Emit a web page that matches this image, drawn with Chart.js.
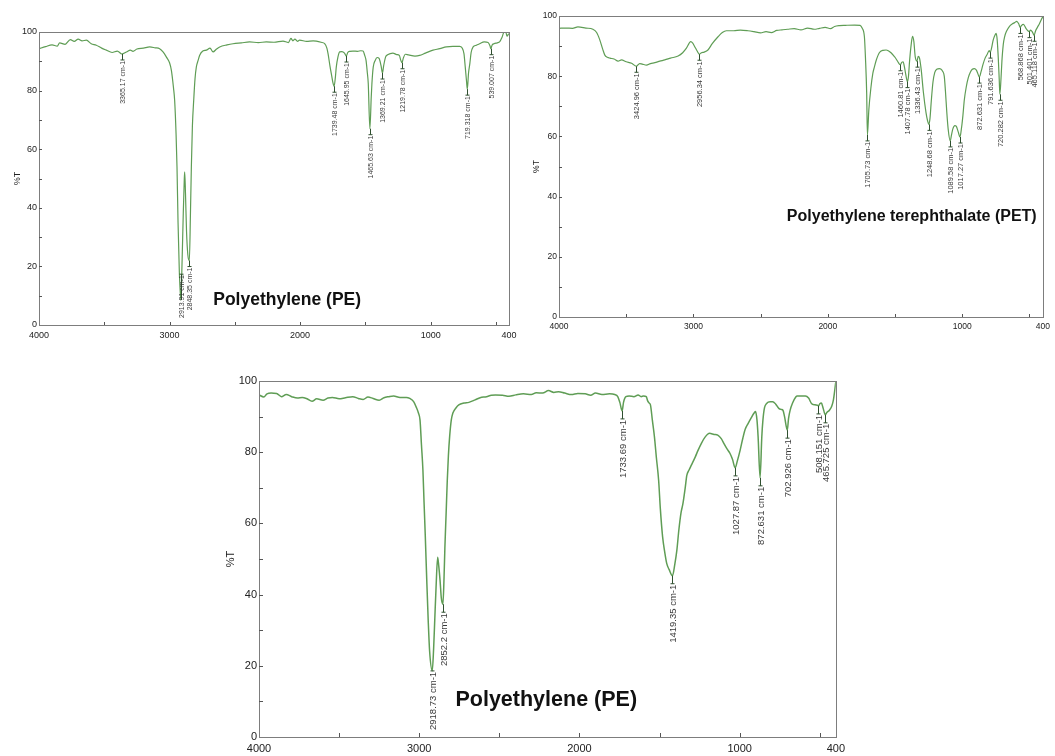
<!DOCTYPE html>
<html><head><meta charset="utf-8">
<script src="https://cdn.jsdelivr.net/npm/chart.js@4.4.1/dist/chart.umd.min.js"></script>
<style>
body{margin:0;background:#fff;width:1055px;height:756px;position:relative;overflow:hidden}
canvas{position:absolute}
</style></head><body>
<canvas id="c1" width="525" height="345" style="left:0;top:0"></canvas>
<canvas id="c2" width="525" height="337" style="left:530px;top:0"></canvas>
<canvas id="c3" width="650" height="396" style="left:200px;top:360px"></canvas>
<script>
// ---------- shared ticks ----------
const xTickLabels = [4000, 3000, 2000, 1000, 400];
const yTickLabels = [0, 20, 40, 60, 80, 100];
const xMinorTicks = [3500, 3000, 2500, 2000, 1500, 1000, 500];
const yMinorTicks = [10, 20, 30, 40, 50, 60, 70, 80, 90];

// ---------- Panel 1 : Polyethylene (PE) ----------
const title1 = 'Polyethylene (PE)';
const wn1 = [4000,3950,3900,3860,3842,3800,3760,3730,3700,3670,3637,3600,3561,3520,3484,3440,3400,3365.17,3330,3300,3280,3250,3200,3152,3110,3076,3050,3025,3000,2986,2970,2961,2950,2943,2935,2925,2913.91,2905,2895,2887,2884,2878,2870,2860,2848.35,2840,2833,2825,2815,2805,2795,2780,2770,2745,2718,2690,2667,2640,2616,2560,2514,2450,2387,2320,2259,2200,2131,2090,2070,2055,2040,2020,2004,1950,1900,1876,1840,1812,1795,1786,1770,1761,1750,1739.48,1730,1723,1710,1697,1680,1660,1645.95,1635,1620,1595,1560,1535,1518,1505,1495,1485,1478,1465.63,1455,1450,1440,1425,1410,1395,1380,1369.21,1360,1345,1330,1289,1260,1240,1230,1219.78,1210,1195,1170,1120,1085,1040,982,930,880,830,778,760,745,735,725,719.318,710,700,690,675,650,625,590,560,545,539.007,530,515,490,472,455,440,425,415,405,400];
const t1 = [94.3,95.0,95.6,95.2,96.3,95.8,97.4,96.8,97.6,97.0,97.2,96.0,95.5,94.5,93.8,93.0,93.5,92.5,93.2,93.8,93.4,94.2,94.5,94.9,94.6,94.3,93.2,91.5,89.5,86.9,81,76.7,65,54,35,18,8.5,20,38,50,52.3,45,32,24,22,38,54,68,76.7,84,88,90.5,92,93.5,93.8,94.5,93.2,94.2,94.9,95.6,96.0,96.3,96.6,96.4,96.6,96.5,96.9,96.4,97.8,97.0,97.6,96.8,97.2,96.8,97.0,96.9,96.5,96.0,94.5,92.6,88,85.8,83,81.5,84.5,88,91.5,93.2,93.3,92.8,91.8,93.0,93.4,93.5,93.4,93.6,93.5,92,90.3,86,82.4,67,78,82.4,88,90.3,91.3,91.0,88.5,86.0,88.5,91.5,92.2,92.8,92.3,92.0,90.5,89.5,91.0,92.4,92.2,91.8,92.0,92.8,93.8,94.3,94.9,95.1,95.1,94.6,92.6,88,83,80.5,86,89.2,93,94.9,95.5,96.0,96.6,96.4,95.2,94.3,95.5,96.0,96.3,96.6,98,99.8,100,98.6,99.2,99.4];
const peaks1 = ['3365.17','2913.91','2848.35','1739.48','1645.95','1465.63','1369.21','1219.78','719.318','539.007'];
const peakT1 = [92.5,8.5,22,81.5,91.8,67,86,89.5,80.5,94.3];

// ---------- Panel 2 : Polyethylene terephthalate (PET) ----------
const title2 = 'Polyethylene terephthalate (PET)';
const wn2 = [4000,3950,3900,3859,3800,3748,3720,3696,3675,3659,3640,3621,3590,3560,3535,3500,3460,3424.96,3400,3380,3349,3320,3287,3250,3213,3170,3114,3080,3052,3020,3005,2990,2970,2956.34,2940,2920,2892,2860,2817,2785,2755,2700,2650,2595,2550,2500,2460,2421,2380,2340,2298,2250,2200,2150,2100,2062,2020,1980,1950,1914,1870,1800,1760,1745,1728,1720,1711,1705.73,1695,1680,1665,1654,1640,1617,1590,1567,1545,1530,1505,1493,1475,1460.81,1450,1440,1430,1420,1407.78,1400,1392,1380,1370,1360,1350,1336.43,1328,1318,1305,1290,1270,1258,1248.68,1240,1230,1218,1205,1190,1170,1160,1145,1134,1125,1115,1105,1089.58,1080,1070,1055,1045,1030,1017.27,1005,995,985,970,955,940,925,910,895,885,872.631,860,845,830,815,800,791.636,782,770,757,748,740,732,725,720.282,712,705,695,685,670,650,630,610,595,580,568.868,560,545,525,510,501.401,492,480,470,465.118,455,440,425,410,400];
const t2 = [95.9,96.0,95.9,96.4,96.0,95.6,94.5,92.0,89,87.0,86.3,86.0,85.7,85.0,85.4,84.8,84.3,83.3,84.2,84.0,83.7,84.2,84.5,85.0,85.4,86.0,86.7,87.8,89.3,91.5,91.0,89.8,88.2,87.3,87.8,88.0,88.7,90.8,93.1,94.5,95.1,95.1,95.3,95.1,94.8,94.4,94.8,94.5,95.2,95.4,95.6,95.8,95.4,96.0,95.6,95.9,96.2,95.8,96.5,96.8,96.9,97.0,96.9,96,93.1,86,74.3,60.5,68.8,76,81,83,85.3,87.8,88.6,88.7,88.3,87.8,86.5,85.8,84.5,83.8,84.6,84.8,83.0,80.5,78.2,80,85,90.5,93.2,91.5,86.5,85.0,86.6,86.0,82,75,68,65.2,64.0,66,72,78,81.2,82.3,82.5,82.4,81.6,80,75,68,62.5,58.5,60.5,62.5,63.6,63.4,61.5,59.8,63,67,72,76.5,79.5,81.3,82.3,82.5,82.0,81.0,79.7,81.5,84,86,87.2,88.5,88.0,89.3,92,93.6,94.2,92,86,79,74,79,85,90.5,93.1,95,96.5,97.3,97.8,98.2,97.4,96.2,96.8,97.2,95.8,95.0,94.8,95.3,94.8,93.9,93.6,95,96.3,97.5,99,99.8];
const peaks2 = ['3424.96','2956.34','1705.73','1460.81','1407.78','1336.43','1248.68','1089.58','1017.27','872.631','791.636','720.282','568.868','501.401','465.118'];
const peakT2 = [83.3,87.3,60.5,83.8,78.2,85.0,64.0,58.5,59.8,79.7,88.0,74,96.2,94.8,93.6];

// ---------- Panel 3 : Polyethylene (PE) ----------
const title3 = 'Polyethylene (PE)';
const wn3 = [4000,3970,3950,3924,3890,3860,3830,3796,3760,3730,3700,3669,3640,3600,3570,3542,3500,3460,3415,3380,3350,3320,3288,3250,3220,3190,3160,3120,3080,3059,3035,3020,3005,2995,2986,2977,2970,2962,2953,2944,2935,2918.73,2910,2903,2895,2885,2878,2870,2862,2852.2,2845,2840,2832,2825,2818,2810,2800,2790,2770,2753,2720,2690,2651,2620,2580,2550,2524,2480,2440,2397,2350,2300,2270,2230,2193,2160,2130,2092,2050,2010,1964,1930,1900,1860,1812,1780,1761,1748,1733.69,1725,1710,1690,1660,1634,1615,1600,1583,1575,1565,1557,1545,1532,1520,1506,1495,1481,1468,1455,1440,1419.35,1405,1392,1380,1366,1354,1340,1330,1316,1300,1277,1260,1239,1215,1188,1160,1137,1115,1099,1080,1061,1045,1027.87,1015,997,980,965,947,930,910,901,892,885,872.631,862,855,845,832,810,794,775,756,740,730,720,702.926,695,685,670,650,641,610,590,570,552,530,515,508.151,500,490,480,465.725,455,440,425,415,400];
const t3 = [96.1,95.5,96.4,96.6,96.5,95.6,96.2,95.6,95.2,95.4,95.0,94.3,95.0,94.6,95.2,95.4,95.0,95.3,95.6,95.1,94.8,95.5,95.1,94.6,95.3,95.6,95.8,95.4,95.4,95.1,94.2,92.8,91.0,89,82,75,66,56.2,44,32.8,24,18.6,25,33,42,50.5,48,44,39,37.3,45,53,63,72,79,84.5,89,91,92.5,93.3,93.8,94.0,94.7,95.3,95.6,96.0,96.1,96.0,95.7,96.1,96.4,96.2,96.7,96.6,97.3,96.8,97.0,96.6,96.2,96.5,96.4,96.0,96.6,96.2,96.4,96.2,95.6,94.0,91.6,94.0,95.6,95.8,95.6,96.1,95.6,95.8,95.6,94.5,93.8,93.3,89,84.3,78.5,72.2,64,56.2,52,48.7,47,45.3,48.5,52.5,58,63,65.6,70,73.5,75.0,76.5,78.7,80.5,82.5,84.3,85.3,85.0,84.8,83.8,82.5,81,79.7,78,75.6,77.5,80.6,84,86.5,88.1,89.5,91.0,91.4,89,84.3,72.8,84.3,89,92.5,93.7,94.2,94.2,93.5,92.3,92,91.8,90,86.2,89.5,91.8,93.8,95.5,95.8,95.8,95.8,95.2,93.7,93.3,93.2,93.0,93.6,93.8,92.5,90.5,91.2,91.8,93,94.7,99.8];
const peaks3 = ['2918.73','2852.2','1733.69','1419.35','1027.87','872.631','702.926','508.151','465.725'];
const peakT3 = [18.6,37.3,91.6,45.3,75.6,72.8,86.2,93.0,90.5];

// ---------- drawing ----------
const FAMILY = "'Liberation Sans', Arial, sans-serif";
const LINE_COLOR = '#5f9d55';

const ftirPlugin = {
  id: 'ftir',
  afterDatasetsDraw(chart, args, o) {
    const ctx = chart.ctx, a = chart.chartArea;
    const xs = chart.scales.x, ys = chart.scales.y;
    ctx.save();
    // frame
    ctx.strokeStyle = '#7d7d7d'; ctx.lineWidth = 1;
    ctx.strokeRect(Math.round(a.left) + 0.5, Math.round(a.top) + 0.5, Math.round(a.right - a.left), Math.round(a.bottom - a.top));
    // inward ticks
    ctx.strokeStyle = '#555'; ctx.beginPath();
    xMinorTicks.forEach(v => { const x = Math.round(xs.getPixelForValue(v)) + 0.5; ctx.moveTo(x, a.bottom); ctx.lineTo(x, a.bottom - o.tick); });
    yMinorTicks.forEach(v => { const y = Math.round(ys.getPixelForValue(v)) + 0.5; ctx.moveTo(a.left, y); ctx.lineTo(a.left + o.tick, y); });
    ctx.stroke();
    // peak markers + labels
    ctx.font = o.peakSize + 'px ' + FAMILY;
    ctx.fillStyle = '#3a3a3a'; ctx.strokeStyle = '#2f4f2f'; ctx.lineWidth = 1;
    o.peaks.forEach((p, i) => {
      const x = Math.round(xs.getPixelForValue(parseFloat(p))) + 0.5;
      const y = ys.getPixelForValue(o.peakT[i]);
      const txt = p + ' cm-1';
      const w = ctx.measureText(txt).width;
      const L = Math.round(o.peakSize * 0.8);
      // keep the label inside the plot: lift it if it would run past the bottom
      const top = Math.min(y + L, a.bottom - 8 - w);
      ctx.beginPath();
      ctx.moveTo(x, y); ctx.lineTo(x, top);
      ctx.moveTo(x - 2, top); ctx.lineTo(x + 2, top);
      ctx.stroke();
      ctx.save();
      ctx.translate(x + 0.5, top + 1);
      ctx.rotate(-Math.PI / 2);
      ctx.textAlign = 'right'; ctx.textBaseline = 'middle';
      ctx.fillText(txt, 0, 0);
      ctx.restore();
    });
    // title
    ctx.font = 'bold ' + o.titleSize + 'px ' + FAMILY;
    ctx.fillStyle = '#111'; ctx.textAlign = 'center'; ctx.textBaseline = 'middle';
    ctx.fillText(o.title, a.left + (a.right - a.left) * o.titleX, a.top + (a.bottom - a.top) * o.titleY);
    // y axis title
    ctx.save();
    ctx.font = o.tickSize + 'px ' + FAMILY; ctx.fillStyle = '#222';
    ctx.translate(a.left - o.yTitleOff, (a.top + a.bottom) / 2);
    ctx.rotate(-Math.PI / 2);
    ctx.fillText('%T', 0, 0);
    ctx.restore();
    ctx.restore();
  }
};

function makeChart(id, wn, t, g) {
  const pts = wn.map((w, i) => ({ x: w, y: t[i] }));
  return new Chart(document.getElementById(id), {
    type: 'line',
    data: { datasets: [{ data: pts, borderColor: LINE_COLOR, borderWidth: g.lw, pointRadius: 0, fill: false, cubicInterpolationMode: 'monotone' }] },
    options: {
      responsive: false, animation: false, devicePixelRatio: 1,
      layout: { padding: { left: 0, top: g.top, right: g.right, bottom: 0 } },
      plugins: { legend: { display: false }, tooltip: { enabled: false }, ftir: g.plugin },
      scales: {
        x: {
          type: 'linear', reverse: true, min: 400, max: 4000,
          afterBuildTicks: s => { s.ticks = xTickLabels.map(v => ({ value: v })); },
          afterFit: s => { s.height = g.xh; },
          grid: { display: false, drawTicks: false }, border: { display: false },
          ticks: { autoSkip: false, maxRotation: 0, padding: g.xpad, color: '#222', font: { size: g.tick, family: FAMILY }, callback: v => String(v) }
        },
        y: {
          min: 0, max: 100,
          afterBuildTicks: s => { s.ticks = yTickLabels.map(v => ({ value: v })); },
          afterFit: s => { s.width = g.yw; },
          grid: { display: false, drawTicks: false }, border: { display: false },
          ticks: { padding: 2, color: '#222', font: { size: g.tick, family: FAMILY }, callback: v => String(v) }
        }
      }
    },
    plugins: [ftirPlugin]
  });
}

makeChart('c1', wn1, t1, { top: 32, right: 16, yw: 39, xh: 20, xpad: 5, tick: 9, lw: 1.2,
  plugin: { peaks: peaks1, peakT: peakT1, peakSize: 7, title: title1, titleSize: 17.5, titleX: 0.528, titleY: 0.915, tick: 3, tickSize: 9, yTitleOff: 21 } });
makeChart('c2', wn2, t2, { top: 16, right: 11, yw: 29, xh: 20, xpad: 5, tick: 8.5, lw: 1.2,
  plugin: { peaks: peaks2, peakT: peakT2, peakSize: 7.5, title: title2, titleSize: 16, titleX: 0.729, titleY: 0.668, tick: 3, tickSize: 8.5, yTitleOff: 22 } });
makeChart('c3', wn3, t3, { top: 21, right: 14, yw: 59, xh: 19, xpad: 5, tick: 11, lw: 1.5,
  plugin: { peaks: peaks3, peakT: peakT3, peakSize: 9.5, title: title3, titleSize: 21.5, titleX: 0.498, titleY: 0.896, tick: 4, tickSize: 11, yTitleOff: 28 } });
</script>
</body></html>
